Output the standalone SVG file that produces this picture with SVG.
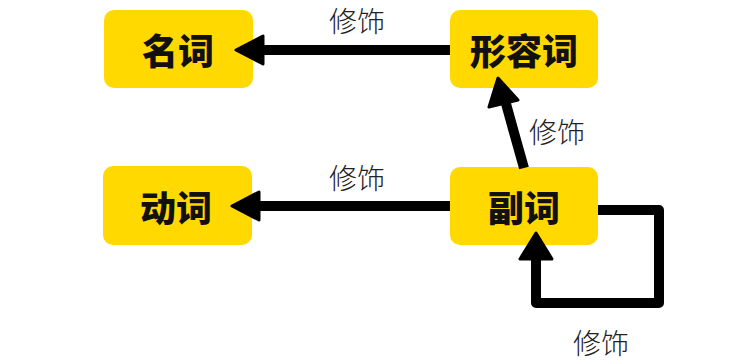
<svg xmlns="http://www.w3.org/2000/svg" width="750" height="364" viewBox="0 0 750 364">
<style>
.box{fill:#FFD900;}
.nt{font-family:"Noto Sans CJK SC","Noto Sans CJK JP",sans-serif;font-weight:900;font-size:36px;fill:#111;text-anchor:middle;dominant-baseline:central;}
.lb{font-family:"Noto Sans CJK SC","Noto Sans CJK JP",sans-serif;font-weight:300;font-size:28px;fill:#222;text-anchor:middle;dominant-baseline:central;}
.ln{fill:none;stroke:#000;stroke-width:10;stroke-linejoin:round;}
.ah{fill:#000;stroke:#000;stroke-width:3;stroke-linejoin:round;}
</style>
<rect width="750" height="364" fill="#fff"/>
<g id="n-mingci">
<rect class="box" x="104" y="10" width="149" height="78" rx="10"/>
<text class="nt" x="178" y="49">名词</text>
</g>
<g id="n-xingrongci">
<rect class="box" x="450" y="10" width="148" height="78" rx="10"/>
<text class="nt" x="524" y="49">形容词</text>
</g>
<g id="n-dongci">
<rect class="box" x="103" y="166" width="149" height="79" rx="10"/>
<text class="nt" x="176" y="206">动词</text>
</g>
<g id="n-fuci">
<rect class="box" x="450" y="167" width="148" height="78" rx="10"/>
<text class="nt" x="524" y="206">副词</text>
</g>
<g id="connectors">
<line class="ln" x1="450" y1="50" x2="258" y2="50"/>
<polygon class="ah" points="236,50 263,36 263,64"/>
<line class="ln" x1="450" y1="206" x2="254" y2="206"/>
<polygon class="ah" points="232,206 259,192 259,220"/>
<path class="ln" d="M524,168 Q516,140 505,100"/>
<polygon class="ah" points="498,78 489,107 518,100"/>
<path class="ln" d="M598,210 H659 V303 H536 V256"/>
<polygon class="ah" points="536,233 520,259 552,259"/>
<text class="lb" x="357" y="20">修饰</text>
<text class="lb" x="557" y="131">修饰</text>
<text class="lb" x="357" y="177">修饰</text>
<text class="lb" x="601" y="342">修饰</text>
</g>
</svg>
